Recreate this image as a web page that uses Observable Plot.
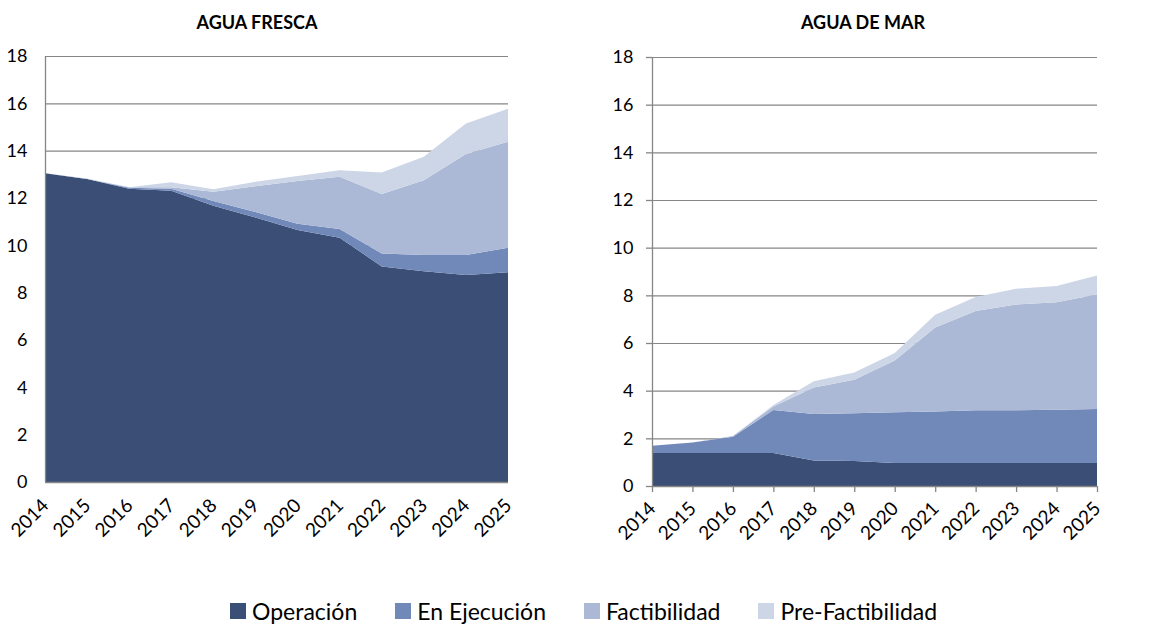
<!DOCTYPE html>
<html><head><meta charset="utf-8">
<script src="https://cdn.jsdelivr.net/npm/d3@7"></script>
<script src="https://cdn.jsdelivr.net/npm/@observablehq/plot@0.6"></script>
<style>
body{margin:0;background:#fff;font-family:Lato,sans-serif;}
#wrap{position:relative;width:1154px;height:626px;overflow:hidden;}
.panel{position:absolute;top:0;}
.title{position:absolute;top:11px;font-weight:bold;font-size:18px;color:#000;transform:translateX(-50%);white-space:nowrap;}
#legend{position:absolute;top:597px;left:230px;display:flex;align-items:center;gap:38px;font-size:23px;color:#000;}
.item{display:flex;align-items:center;gap:6px;}
.sw{width:16px;height:16px;display:inline-block;}
</style></head>
<body><div id="wrap"></div>
<script>
const years = [2014,2015,2016,2017,2018,2019,2020,2021,2022,2023,2024,2025];
const series = ["Operación","En Ejecución","Factibilidad","Pre-Factibilidad"];
const colors = ["#3B4E75","#7189B9","#ABB9D6","#CDD6E7"];
const yTicks = [0,2,4,6,8,10,12,14,16,18];
const titles = ["AGUA FRESCA","AGUA DE MAR"];

// AGUA FRESCA (stacked components)
const frescaOperacion     = [13.05,12.80,12.39,12.31,11.67,11.18,10.65,10.32,9.11,8.91,8.75,8.86];
const frescaEjecucion     = [0,0,0.04,0.08,0.20,0.23,0.26,0.37,0.54,0.68,0.84,1.04];
const frescaFactibilidad  = [0,0,0.02,0.06,0.39,1.09,1.81,2.21,2.52,3.16,4.27,4.48];
const frescaPreFact       = [0,0.02,0,0.22,0.11,0.19,0.21,0.27,0.91,0.99,1.29,1.39];

// AGUA DE MAR (stacked components)
const marOperacion        = [1.38,1.38,1.38,1.38,1.07,1.05,0.97,0.97,0.97,0.97,0.97,0.97];
const marEjecucion        = [0.31,0.45,0.69,1.81,1.95,2.00,2.12,2.16,2.21,2.21,2.23,2.26];
const marFactibilidad     = [0,0,0.03,0.15,1.11,1.41,2.18,3.52,4.16,4.44,4.51,4.81];
const marPreFact          = [0,0,0,0.06,0.26,0.30,0.31,0.54,0.59,0.66,0.68,0.79];

function rows(arrs){
  const out=[];
  years.forEach((y,i)=>arrs.forEach((a,k)=>out.push({year:y,series:series[k],value:a[i]})));
  return out;
}
const frescaRows = rows([frescaOperacion,frescaEjecucion,frescaFactibilidad,frescaPreFact]);
const marRows = rows([marOperacion,marEjecucion,marFactibilidad,marPreFact]);

const wrap = document.getElementById("wrap");
const gray = "#868686";

function panel(data, o){
  const p = Plot.plot({
    width:o.width, height:560,
    marginLeft:o.mL, marginRight:o.mR, marginTop:o.mT, marginBottom:o.mB,
    x:{domain:[2014,2025]},
    y:{domain:[0,18]},
    color:{domain:series, range:colors},
    style:{fontFamily:"Lato, sans-serif", fontSize:"18px", color:"#000", background:"transparent", overflow:"visible"},
    marks:[
      Plot.gridY(yTicks,{stroke:gray, strokeOpacity:1, strokeWidth:1.2}),
      Plot.areaY(data,{x:"year", y:"value", fill:"series", order:series}),
      Plot.ruleX([2014],{stroke:gray, strokeWidth:1.3}),
      Plot.ruleY([0],{stroke:gray, strokeWidth:1.3}),
      Plot.axisY(yTicks,{tickSize:o.ts, tickPadding:o.yPad, stroke:gray, strokeWidth:1.3, fill:"#000", fontSize:18, label:null}),
      Plot.axisX(years,{tickSize:o.ts, tickPadding:o.xPad, tickRotate:-45, tickFormat:"d", stroke:gray, strokeWidth:1.3, fill:"#000", fontSize:19, label:null})
    ]
  });
  p.classList.add("panel");
  p.style.left = o.left+"px";
  wrap.appendChild(p);
}

panel(frescaRows,{left:0,width:580,mL:45,mR:72,mT:56,mB:78,ts:0,yPad:18,xPad:20});
panel(marRows,{left:580,width:574,mL:72,mR:57,mT:57,mB:74,ts:6,yPad:13,xPad:13});

[[257,titles[0]],[863,titles[1]]].forEach(([x,t])=>{
  const d=document.createElement("div");d.className="title";d.style.left=x+"px";d.textContent=t;wrap.appendChild(d);
});

const leg=document.createElement("div");leg.id="legend";
series.forEach((s,i)=>{
  const it=document.createElement("div");it.className="item";
  const sw=document.createElement("span");sw.className="sw";sw.style.background=colors[i];
  const tx=document.createElement("span");tx.textContent=s;
  it.appendChild(sw);it.appendChild(tx);leg.appendChild(it);
});
wrap.appendChild(leg);
</script></body></html>
